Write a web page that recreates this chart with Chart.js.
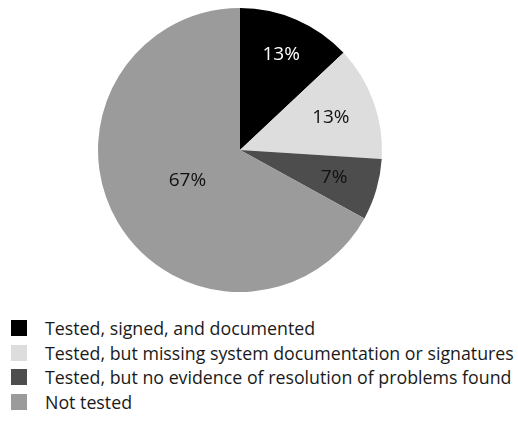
<!DOCTYPE html>
<html>
<head>
<meta charset="utf-8">
<script src="https://cdn.jsdelivr.net/npm/chart.js@4"></script>
<style>
  body { margin: 0; background: #fff; font-family: "Open Sans", sans-serif; }
  #wrap { position: relative; width: 518px; height: 433px; }
  #legend { position: absolute; left: 11px; top: 316px; margin: 0; padding: 0; list-style: none; }
  #legend li { display: flex; align-items: center; height: 24.6px; font-size: 17.8px; color: #1a1a1a; white-space: nowrap; }
  #legend .box { width: 16px; height: 16px; margin-right: 18px; flex: none; }
</style>
</head>
<body>
<div id="wrap">
  <canvas id="pie_chart" width="518" height="300"></canvas>
  <ul id="legend"></ul>
</div>
<script>
// slice data, clockwise from 12 o'clock
const categories = [
  'Tested, signed, and documented',
  'Tested, but missing system documentation or signatures',
  'Tested, but no evidence of resolution of problems found',
  'Not tested'
];
const shares = [13, 13, 7, 67];

const sliceColors = ['#000000', '#dddddd', '#4d4d4d', '#9b9b9b'];
const textColors = ['#ffffff', '#111111', '#111111', '#111111'];
// how far out each percentage sits, as a fraction of the radius
const labelRadius = [0.73, 0.68, 0.69, 0.43];

// writes "NN%" inside each slice
const sliceLabels = {
  id: 'sliceLabels',
  afterDatasetsDraw(chart) {
    const ctx = chart.ctx;
    const meta = chart.getDatasetMeta(0);
    const total = shares.reduce((a, b) => a + b, 0);
    ctx.save();
    ctx.font = '19px "Open Sans", sans-serif';
    ctx.textAlign = 'center';
    ctx.textBaseline = 'middle';
    meta.data.forEach((arc, i) => {
      const mid = (arc.startAngle + arc.endAngle) / 2;
      const r = arc.outerRadius * labelRadius[i];
      const x = arc.x + Math.cos(mid) * r;
      const y = arc.y + Math.sin(mid) * r;
      ctx.fillStyle = textColors[i];
      ctx.fillText(Math.round(shares[i] / total * 100) + '%', x, y);
    });
    ctx.restore();
  }
};

new Chart(document.getElementById('pie_chart'), {
  type: 'pie',
  data: {
    labels: categories,
    datasets: [{
      data: shares,
      backgroundColor: sliceColors,
      borderWidth: 0
    }]
  },
  options: {
    responsive: false,
    animation: false,
    layout: { padding: { top: 8, bottom: 8, left: 0, right: 38 } },
    plugins: {
      legend: { display: false },
      tooltip: { enabled: false }
    }
  },
  plugins: [sliceLabels]
});

// legend below the pie
const legendEl = document.getElementById('legend');
categories.forEach((name, i) => {
  const li = document.createElement('li');
  const box = document.createElement('span');
  box.className = 'box';
  box.style.background = sliceColors[i];
  li.appendChild(box);
  li.appendChild(document.createTextNode(name));
  legendEl.appendChild(li);
});
</script>
</body>
</html>
